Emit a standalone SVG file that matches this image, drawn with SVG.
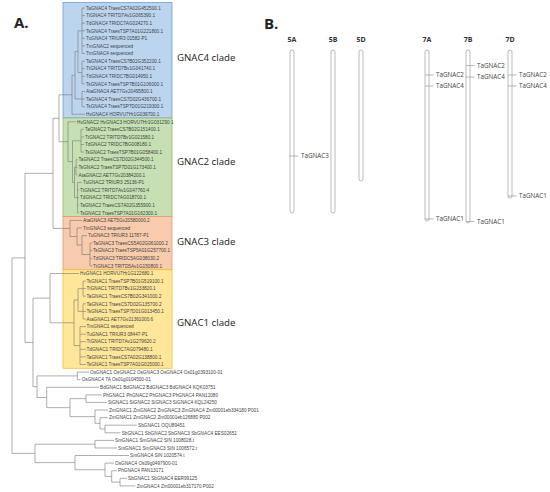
<svg xmlns="http://www.w3.org/2000/svg" width="550" height="492" viewBox="0 0 550 492">
<style>
.leaf{font-family:"Liberation Sans",Arial,sans-serif;font-size:4.7px;fill:#444}
.tree{stroke:#777;stroke-width:0.6;fill:none}
.clade{font-family:"Open Sans","Liberation Sans",sans-serif;font-size:9.7px;fill:#222}
.panel{font-family:"Open Sans","Liberation Sans",sans-serif;font-size:15px;font-weight:bold;fill:#222}
.chrlab{font-family:"Open Sans","Liberation Sans",sans-serif;font-size:7px;font-weight:bold;fill:#333;text-anchor:middle}
.chr{fill:#fff;stroke:#aaa;stroke-width:0.8}
.tick{stroke:#999;stroke-width:0.7}
.gene{font-family:"Open Sans","Liberation Sans",sans-serif;font-size:6.3px;fill:#444}
</style>
<rect width="550" height="492" fill="#fff"/>
<text class="panel" x="14" y="28">A.</text>
<text class="panel" x="264" y="29">B.</text>

<g id="box-gnac4"><rect x="63" y="2.5" width="109" height="115.5" fill="#bcd5ee" stroke="#6f9fd8" stroke-width="0.8"/></g>
<g id="box-gnac2"><rect x="63" y="118" width="109" height="98.6" fill="#c6e0b4" stroke="#8fbc6f" stroke-width="0.8"/></g>
<g id="box-gnac3"><rect x="63" y="216.6" width="109" height="53.1" fill="#f8cbad" stroke="#e59a70" stroke-width="0.8"/></g>
<g id="box-gnac1"><rect x="63" y="269.7" width="109" height="98.6" fill="#ffe699" stroke="#f2c12e" stroke-width="0.8"/></g>

<g id="connectors" class="tree">
<path d="M82,8V53.5M82,8H85M82,15.6H85M82,23.2H85M82,30.8H85M82,38.3H85M82,45.9H85M82,53.5H85"/>
<path d="M82,61.1V83.9M82,61.1H85M82,68.7H85M82,76.3H85M82,83.9H85"/>
<path d="M82,91.4V106.6M82,91.4H85M82,99H85M82,106.6H85"/>
<path d="M78,30.8V72.5M78,30.8H82M78,72.5H82"/>
<path d="M75,51.6V99M75,51.6H78M75,99H82"/>
<path d="M72,75.3V114.2M72,75.3H75M72,114.2H85"/>
<path d="M81,129.4V152.1M81,129.4H84M81,136.9H84M81,144.5H84M81,152.1H84"/>
<path d="M76,159.7V174.9M76,159.7H77.5M76,167.3H77.5M76,174.9H77.5"/>
<path d="M77.5,182.5V212.8M77.5,182.5H82M77.5,190H79M77.5,197.6H79M77.5,205.2H79M77.5,212.8H79"/>
<path d="M74.5,167.3V197.6M74.5,167.3H76M74.5,197.6H77.5"/>
<path d="M72.5,140.75V182.45M72.5,140.75H81M72.5,182.45H74.5"/>
<path d="M68,121.8V161.6M68,121.8H76M68,161.6H72.5"/>
<path d="M59,94.8V141.7M59,94.8H72M59,141.7H68"/>
<path d="M90,243.1V265.9M90,243.1H92.5M90,250.7H92.5M90,258.3H92.5M90,265.9H92.5"/>
<path d="M82,235.6V254.5M82,235.6H87M82,254.5H90"/>
<path d="M77,228V245.05M77,228H82M77,245.05H82"/>
<path d="M70,220.4V236.5M70,220.4H82M70,236.5H77"/>
<path d="M53,118.25V228.45M53,118.25H59M53,228.45H70"/>
<path d="M83,281.1V296.2M83,281.1H86M83,288.6H86M83,296.2H86"/>
<path d="M83,303.8V319M83,303.8H86M83,311.4H86M83,319H86"/>
<path d="M80,326.6V364.5M80,326.6H86M80,334.2H86M80,341.7H86M80,349.3H86M80,356.9H86M80,364.5H86"/>
<path d="M78,288.65V311.4M78,288.65H83M78,311.4H83"/>
<path d="M74,300V345.55M74,300H78M74,345.55H80"/>
<path d="M50,273.5V322.8M50,273.5H79M50,322.8H74"/>
<path d="M77.3,372.1V379.7M77.3,372.1H89M77.3,379.7H80.5"/>
<path d="M86,394.9V402.4M86,394.9H102M86,402.4H107"/>
<path d="M105,425.2V432.8M105,425.2H137M105,432.8H120.5"/>
<path d="M100,417.6V429M100,417.6H108M100,429H105"/>
<path d="M95,410V423.3M95,410H108M95,423.3H100"/>
<path d="M70,398.65V416.65M70,398.65H86M70,416.65H95"/>
<path d="M46.7,387.3V407.65M46.7,387.3H99M46.7,407.65H70"/>
<path d="M37,375.9V397.5M37,375.9H77.3M37,397.5H46.7"/>
<path d="M33,298.15V386.7M33,298.15H50M33,386.7H37"/>
<path d="M25,173.35V342.4M25,173.35H53M25,342.4H33"/>
<path d="M95,440.4V448M95,440.4H114M95,448H117"/>
<path d="M120,478.3V485.9M120,478.3H127M120,485.9H135.5"/>
<path d="M111.7,470.7V482.1M111.7,470.7H117M111.7,482.1H120"/>
<path d="M105,463.1V476.4M105,463.1H114M105,476.4H111.7"/>
<path d="M75,455.5V469.75M75,455.5H129M75,469.75H105"/>
<path d="M35,444.2V462.6M35,444.2H95M35,462.6H75"/>
<path d="M12,257.9V453.4M12,257.9H25M12,453.4H35"/>
</g>

<g id="leaves-gnac4" class="leaf">
<text id="l0" x="86" y="9.7">TaGNAC4 TraesCS7A02G452500.1</text>
<text id="l1" x="86" y="17.3">TtGNAC4 TRITD7Av1G065390.1</text>
<text id="l2" x="86" y="24.9">TdGNAC4 TRIDC7AG024270.1</text>
<text id="l3" x="86" y="32.5">TsGNAC4 TraesTSP7A01G221800.1</text>
<text id="l4" x="86" y="40">TuGNAC4 TRIUR3 01582-P1</text>
<text id="l5" x="86" y="47.6">TmGNAC2 sequenced</text>
<text id="l6" x="86" y="55.2">TmGNAC4 sequenced</text>
<text id="l7" x="86" y="62.8">TaGNAC4 TraesCS7B02G352200.1</text>
<text id="l8" x="86" y="70.4">TtGNAC4 TRITD7Bv1G041740.1</text>
<text id="l9" x="86" y="78">TdGNAC4 TRIDC7BG014950.1</text>
<text id="l10" x="86" y="85.6">TsGNAC4 TraesTSP7B01G106000.1</text>
<text id="l11" x="86" y="93.1">AtaGNAC4 AET7Gv20495800.1</text>
<text id="l12" x="86" y="100.7">TaGNAC4 TraesCS7D02G436700.1</text>
<text id="l13" x="86" y="108.3">TsGNAC4 TraesTSP7D01G219300.1</text>
<text id="l14" x="86" y="115.9">HvGNAC4 HORVU7Hr1G039700.1</text>
</g>
<g id="leaves-gnac2" class="leaf">
<text id="l15" x="77" y="123.5">HvGNAC2 HvGNAC3 HORVU7Hr1G031290.1</text>
<text id="l16" x="85" y="131.1">TaGNAC2 TraesCS7B02G151400.1</text>
<text id="l17" x="85" y="138.6">TtGNAC2 TRITD7Bv1G021580.1</text>
<text id="l18" x="85" y="146.2">TdGNAC2 TRIDC7BG008180.1</text>
<text id="l19" x="85" y="153.8">TsGNAC2 TraesTSP7B01G058400.1</text>
<text id="l20" x="78.5" y="161.4">TaGNAC2 TraesCS7D02G344500.1</text>
<text id="l21" x="78.5" y="169">TsGNAC2 TraesTSP7D01G173400.1</text>
<text id="l22" x="78.5" y="176.6">AtaGNAC2 AET7Gv20384200.1</text>
<text id="l23" x="83" y="184.2">TuGNAC2 TRIUR3 25136-P1</text>
<text id="l24" x="80" y="191.7">TtGNAC2 TRITD7Av1G047760.4</text>
<text id="l25" x="80" y="199.3">TdGNAC2 TRIDC7AG018700.1</text>
<text id="l26" x="80" y="206.9">TaGNAC2 TraesCS7A02G355900.1</text>
<text id="l27" x="80" y="214.5">TsGNAC2 TraesTSP7A01G162300.1</text>
</g>
<g id="leaves-gnac3" class="leaf">
<text id="l28" x="83" y="222.1">AtaGNAC3 AET5Gv20580000.2</text>
<text id="l29" x="83" y="229.7">TmGNAC3 sequenced</text>
<text id="l30" x="88" y="237.3">TuGNAC3 TRIUR3 11787-P1</text>
<text id="l31" x="93" y="244.8">TaGNAC3 TraesCS5A02G061000.2</text>
<text id="l32" x="93" y="252.4">TsGNAC3 TraesTSP5A01G257700.1</text>
<text id="l33" x="93" y="260">TdGNAC3 TRIDC5AG038030.2</text>
<text id="l34" x="93" y="267.6">TtGNAC3 TRITD5Av1G150800.1</text>
</g>
<g id="leaves-gnac1" class="leaf">
<text id="l35" x="80" y="275.2">HvGNAC1 HORVU7Hr1G122680.1</text>
<text id="l36" x="86.5" y="282.8">TsGNAC1 TraesTSP7B01G519100.1</text>
<text id="l37" x="86.5" y="290.3">TtGNAC1 TRITD7Bv1G233820.1</text>
<text id="l38" x="86.5" y="297.9">TaGNAC1 TraesCS7B02G341000.2</text>
<text id="l39" x="86.5" y="305.5">TaGNAC1 TraesCS7D02G135700.2</text>
<text id="l40" x="86.5" y="313.1">TsGNAC1 TraesTSP7D01G013450.1</text>
<text id="l41" x="86.5" y="320.7">AtaGNAC1 AET7Gv21361000.6</text>
<text id="l42" x="86.5" y="328.3">TmGNAC1 sequenced</text>
<text id="l43" x="86.5" y="335.9">TuGNAC1 TRIUR3 08447-P1</text>
<text id="l44" x="86.5" y="343.4">TtGNAC1 TRITD7Av1G279620.2</text>
<text id="l45" x="86.5" y="351">TdGNAC1 TRIDC7AG079480.1</text>
<text id="l46" x="86.5" y="358.6">TaGNAC1 TraesCS7A02G138800.1</text>
<text id="l47" x="86.5" y="366.2">TsGNAC1 TraesTSP7A01G015000.1</text>
</g>
<g id="leaves-outgroup" class="leaf">
<text id="l48" x="90" y="373.8">OsGNAC1 OsGNAC2 OsGNAC3 OsGNAC4 Os01g0393100-01</text>
<text id="l49" x="81.7" y="381.4">OsGNAC4 7A Os01g0104500-01</text>
<text id="l50" x="100" y="389">BdGNAC1 BdGNAC2 BdGNAC3 BdGNAC4 KQK03751</text>
<text id="l51" x="103" y="396.6">PhGNAC1 PhGNAC2 PhGNAC3 PhGNAC4 PAN12080</text>
<text id="l52" x="108" y="404.1">SiGNAC1 SiGNAC2 SiGNAC3 SiGNAC4 KQL24250</text>
<text id="l53" x="109" y="411.7">ZmGNAC1 ZmGNAC2 ZmGNAC3 ZmGNAC4 Zm00001eb334180 P001</text>
<text id="l54" x="109" y="419.3">ZmGNAC1 ZmGNAC2 Zm00001eb126880 P002</text>
<text id="l55" x="138" y="426.9">SbGNAC1 OQU89451</text>
<text id="l56" x="121.7" y="434.5">SbGNAC1 SbGNAC2 SbGNAC3 SbGNAC4 EES02651</text>
<text id="l57" x="115" y="442.1">SmGNAC1 SmGNAC2 SIN 1008028.t</text>
<text id="l58" x="118" y="449.7">SmGNAC1 SmGNAC3 SIN 1006572.t</text>
<text id="l59" x="130" y="457.2">SmGNAC4 SIN 1020574.t</text>
<text id="l60" x="115" y="464.8">OsGNAC4 Os09g0497900-01</text>
<text id="l61" x="118" y="472.4">PhGNAC4 PAN13171</text>
<text id="l62" x="128" y="480">SbGNAC1 SbGNAC4 EER99125</text>
<text id="l63" x="136.7" y="487.6">ZmGNAC4 Zm00001eb317170 P002</text>
</g>

<g id="clade-labels" class="clade">
<text id="lab-gnac4" x="177" y="61">GNAC4 clade</text>
<text id="lab-gnac2" x="177" y="165">GNAC2 clade</text>
<text id="lab-gnac3" x="177" y="245">GNAC3 clade</text>
<text id="lab-gnac1" x="177" y="326">GNAC1 clade</text>
</g>

<g id="chr-5A"><text class="chrlab" x="292" y="42">5A</text><rect class="chr" x="290" y="50" width="4" height="163" rx="2"/>
<line class="tick" x1="289.5" y1="156" x2="298" y2="156"/><text class="gene" x="301" y="158.2">TaGNAC3</text></g>
<g id="chr-5B"><text class="chrlab" x="333" y="42">5B</text><rect class="chr" x="331" y="50" width="4" height="163" rx="2"/></g>
<g id="chr-5D"><text class="chrlab" x="361" y="42">5D</text><rect class="chr" x="359" y="50" width="4" height="131" rx="2"/></g>
<g id="chr-7A"><text class="chrlab" x="427" y="42">7A</text><rect class="chr" x="425" y="50" width="4" height="171" rx="2"/>
<line class="tick" x1="425" y1="75" x2="433.5" y2="75"/><text class="gene" x="436" y="77.2">TaGNAC2</text>
<line class="tick" x1="425" y1="86" x2="433.5" y2="86"/><text class="gene" x="436" y="88.2">TaGNAC4</text>
<line class="tick" x1="425" y1="219" x2="433.5" y2="219"/><text class="gene" x="436" y="221.2">TaGNAC1</text></g>
<g id="chr-7B"><text class="chrlab" x="468" y="42">7B</text><rect class="chr" x="466" y="50" width="4" height="173" rx="2"/>
<line class="tick" x1="466" y1="65.5" x2="474.5" y2="65.5"/><text class="gene" x="477" y="67.7">TaGNAC2</text>
<line class="tick" x1="466" y1="77" x2="474.5" y2="77"/><text class="gene" x="477" y="79.2">TaGNAC4</text>
<line class="tick" x1="466" y1="221.5" x2="474.5" y2="221.5"/><text class="gene" x="477" y="223.7">TaGNAC1</text></g>
<g id="chr-7D"><text class="chrlab" x="510" y="42">7D</text><rect class="chr" x="508" y="50" width="4" height="148" rx="2"/>
<line class="tick" x1="508" y1="75" x2="516.5" y2="75"/><text class="gene" x="519" y="77.2">TaGNAC2</text>
<line class="tick" x1="508" y1="86" x2="516.5" y2="86"/><text class="gene" x="519" y="88.2">TaGNAC4</text>
<line class="tick" x1="508" y1="196" x2="516.5" y2="196"/><text class="gene" x="519" y="198.2">TaGNAC1</text></g>
</svg>
